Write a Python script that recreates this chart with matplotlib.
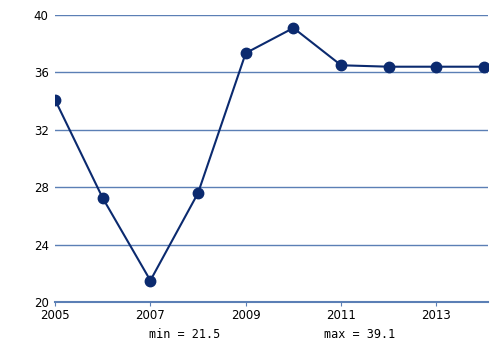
import matplotlib.pyplot as plt

# --- Data ---
years = [2005, 2006, 2007, 2008, 2009, 2010, 2011, 2012, 2013, 2014]
values = [34.1, 27.25, 21.5, 27.6, 37.35, 39.1, 36.5, 36.4, 36.4, 36.4]
xticks = [2005, 2007, 2009, 2011, 2013]
yticks = [20, 24, 28, 32, 36, 40]

line_color = "#0b2a6f"
grid_color = "#5b7fb5"

fig = plt.figure(figsize=(5, 3.5), dpi=100)
ax = fig.add_axes([0.11, 0.137, 0.866, 0.82])

ax.plot(years, values, color=line_color, linewidth=1.5, marker="o",
        markersize=7.5, zorder=3)

ax.set_xlim(2005, 2014.08)
ax.set_ylim(20, 40)
ax.set_xticks(xticks)
ax.set_yticks(yticks)
ax.grid(axis="y", color=grid_color, linewidth=1)
ax.set_axisbelow(True)

for side in ["top", "right", "left"]:
    ax.spines[side].set_visible(False)
ax.spines["bottom"].set_color(grid_color)
ax.spines["bottom"].set_linewidth(1.5)

ax.tick_params(axis="y", length=0, pad=4.5, labelsize=8.5)
ax.tick_params(axis="x", length=3, color=grid_color, pad=2, labelsize=8.5)

fig.text(185 / 500, 1 - 335 / 350, f"min = {min(values)}", family="DejaVu Sans Mono",
         fontsize=8.5, ha="center", va="center")
fig.text(360 / 500, 1 - 335 / 350, f"max = {max(values)}", family="DejaVu Sans Mono",
         fontsize=8.5, ha="center", va="center")

plt.savefig("out.png", dpi=100)
